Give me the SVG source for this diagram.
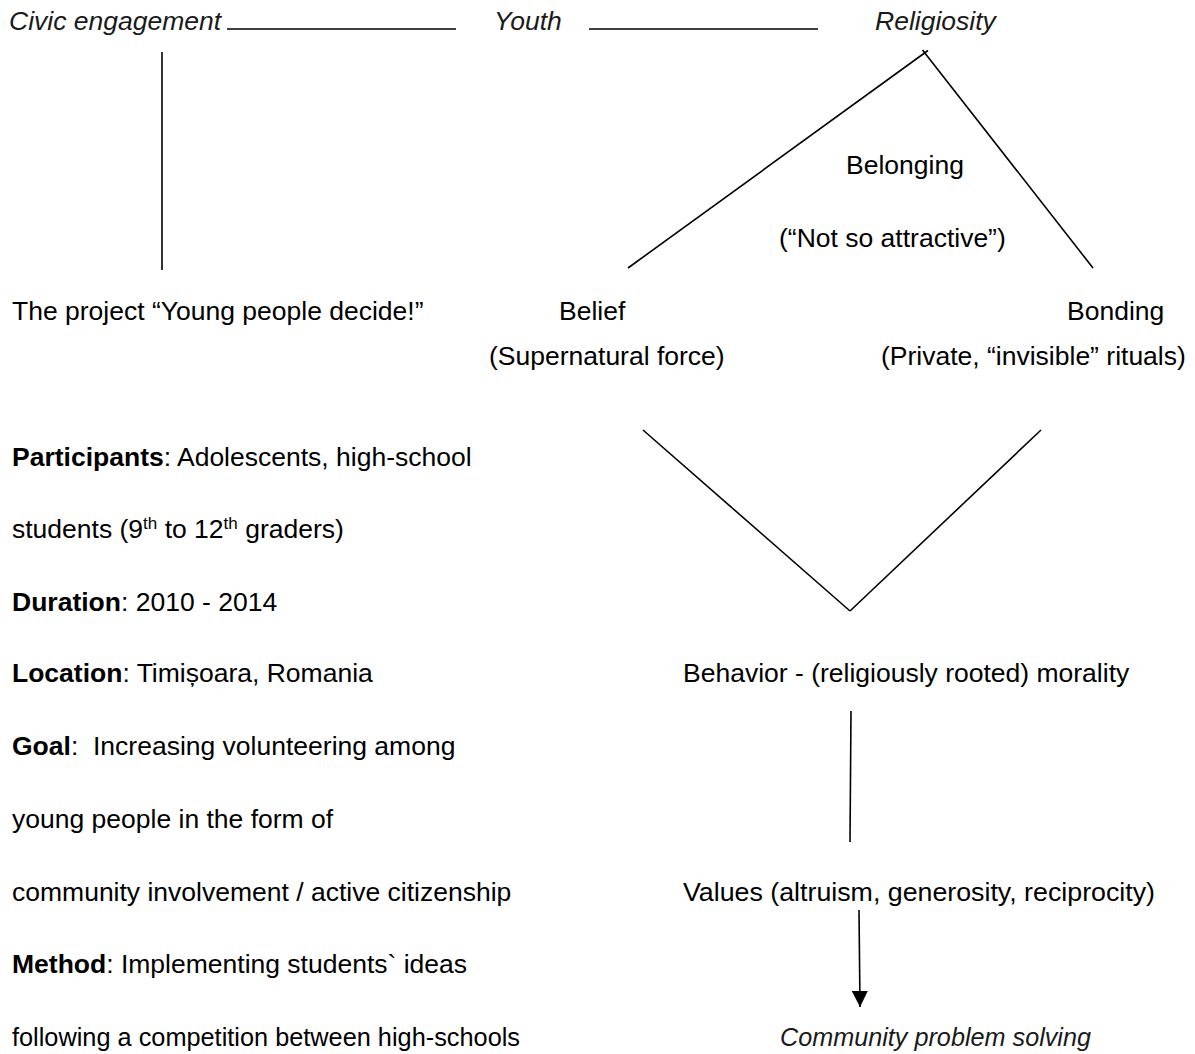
<svg xmlns="http://www.w3.org/2000/svg" width="1195" height="1054" viewBox="0 0 1195 1054">
<defs>
<style>
text{font-family:"Liberation Sans",Arial,sans-serif;font-size:26.5px;fill:#000;white-space:pre}
.it{font-style:italic;fill:#1a1a1a}
.b{font-weight:bold}
.sup{font-size:17px}
.ln{stroke:#000;stroke-width:1.6;fill:none}
</style>
<marker id="ah" markerWidth="16" markerHeight="16" viewBox="0 0 16 16" refX="16" refY="8" orient="auto" markerUnits="userSpaceOnUse">
<path d="M0,0 L16,8 L0,16 Z" fill="#000"/>
</marker>
</defs>
<rect width="1195" height="1054" fill="#fff"/>

<g id="connectors">
<line class="ln" x1="227" y1="29" x2="456" y2="29"/>
<line class="ln" x1="589" y1="29" x2="818" y2="29"/>
<line class="ln" x1="162" y1="52" x2="162" y2="270"/>
<line class="ln" x1="628" y1="268" x2="928" y2="50.5"/>
<line class="ln" x1="922.5" y1="50" x2="1093" y2="268"/>
<line class="ln" x1="643" y1="430" x2="850" y2="611"/>
<line class="ln" x1="850" y1="611" x2="1041" y2="430"/>
<line class="ln" x1="851" y1="711" x2="850" y2="842"/>
<line class="ln" x1="859" y1="910" x2="860" y2="1007" marker-end="url(#ah)"/>
</g>

<g id="civic"><text class="it" x="9" y="30">Civic engagement</text></g>
<g id="youth"><text class="it" x="494" y="30">Youth</text></g>
<g id="religiosity"><text class="it" x="875" y="30">Religiosity</text></g>

<g id="belonging">
<text x="846" y="174">Belonging</text>
<text x="779" y="247">(“Not so attractive”)</text>
</g>

<g id="project"><text x="12" y="320">The project “Young people decide!”</text></g>

<g id="belief">
<text x="559" y="320">Belief</text>
<text x="489" y="365">(Supernatural force)</text>
</g>

<g id="bonding">
<text x="1067" y="320">Bonding</text>
<text x="881" y="365">(Private, “invisible” rituals)</text>
</g>

<g id="details">
<text x="12" y="466"><tspan class="b">Participants</tspan>: Adolescents, high-school</text>
<text x="12" y="538">students (9<tspan class="sup" dy="-9">th</tspan><tspan dy="9"> to 12</tspan><tspan class="sup" dy="-9">th</tspan><tspan dy="9"> graders)</tspan></text>
<text x="12" y="611"><tspan class="b">Duration</tspan>: 2010 - 2014</text>
<text x="12" y="682"><tspan class="b">Location</tspan>: Timișoara, Romania</text>
<text x="12" y="755"><tspan class="b">Goal</tspan>:  Increasing volunteering among</text>
<text x="12" y="828">young people in the form of</text>
<text x="12" y="901">community involvement / active citizenship</text>
<text x="12" y="973"><tspan class="b">Method</tspan>: Implementing students` ideas</text>
<text x="12" y="1046" textLength="508" lengthAdjust="spacingAndGlyphs">following a competition between high-schools</text>
</g>

<g id="behavior"><text x="683" y="682">Behavior - (religiously rooted) morality</text></g>
<g id="values"><text x="683" y="901" textLength="472" lengthAdjust="spacingAndGlyphs">Values (altruism, generosity, reciprocity)</text></g>
<g id="community"><text class="it" x="780" y="1046" textLength="311" lengthAdjust="spacingAndGlyphs">Community problem solving</text></g>
</svg>
